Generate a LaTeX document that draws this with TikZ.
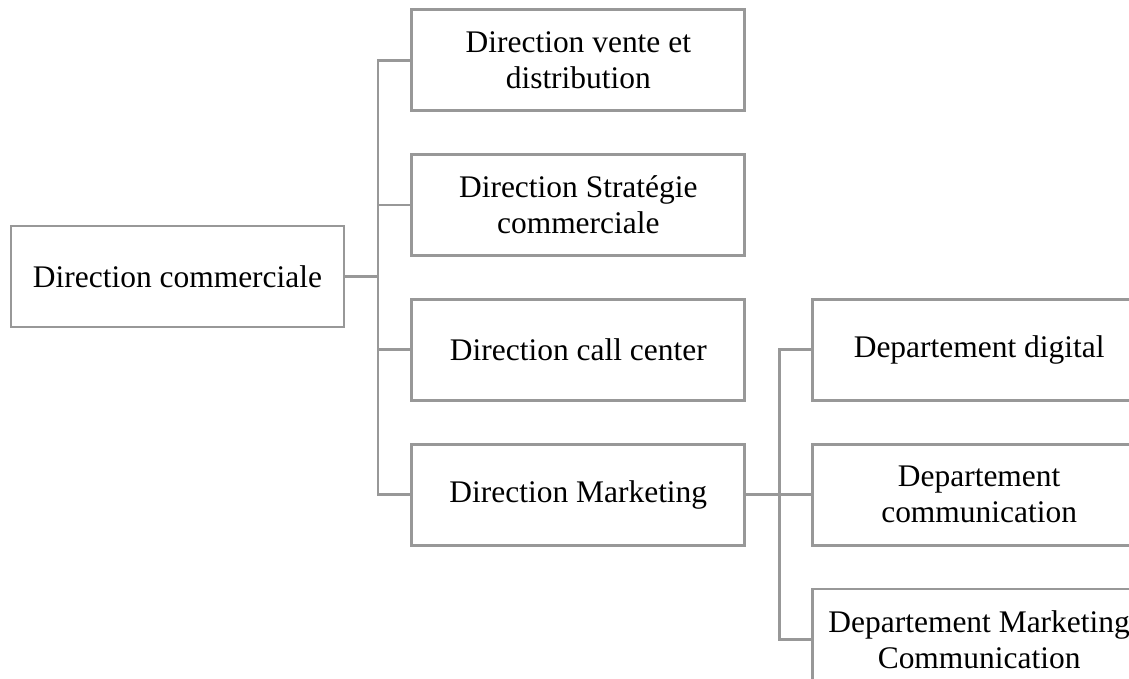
\documentclass[tikz,border=0pt]{standalone}
\usepackage{fontspec}
\setmainfont{Liberation Serif}
\usetikzlibrary{positioning}
\definecolor{boxline}{RGB}{152,152,152}

\begin{document}
\begin{tikzpicture}[
    node distance=0.82cm,
    box/.style={rectangle, draw=boxline, line width=1.6pt, minimum width=6.66cm, minimum height=2.02cm, inner sep=2pt, align=center, font=\fontsize{17.9pt}{20.6pt}\selectfont},
    link/.style={draw=boxline, line width=1.6pt}
]
\useasboundingbox (0,0) rectangle (22.58,-13.56);

% Nodes
\node[box] (commerciale) at (3.55,-5.53) {Direction commerciale};
\node[box, above right=2.25cm and 1.3cm of commerciale] (vente) {Direction vente et\\distribution};
\node[box, below=of vente] (strategie) {Direction Stratégie\\commerciale};
\node[box, below=of strategie] (callcenter) {Direction call center};
\node[box, below=of callcenter] (marketing) {Direction Marketing};
\node[box, right=1.3cm of callcenter] (digital) {Departement digital};
\node[box, right=1.3cm of marketing] (communication) {Departement\\communication};
\node[box, below=of communication] (mktcomm) {Departement Marketing\\Communication};

% Connectors
\foreach \child in {vente, strategie, callcenter, marketing}
  \draw[link] (commerciale.east) -- ++(0.65cm,0) |- (\child.west);
\foreach \child in {digital, communication, mktcomm}
  \draw[link] (marketing.east) -- ++(0.66cm,0) |- (\child.west);

\end{tikzpicture}
\end{document}
